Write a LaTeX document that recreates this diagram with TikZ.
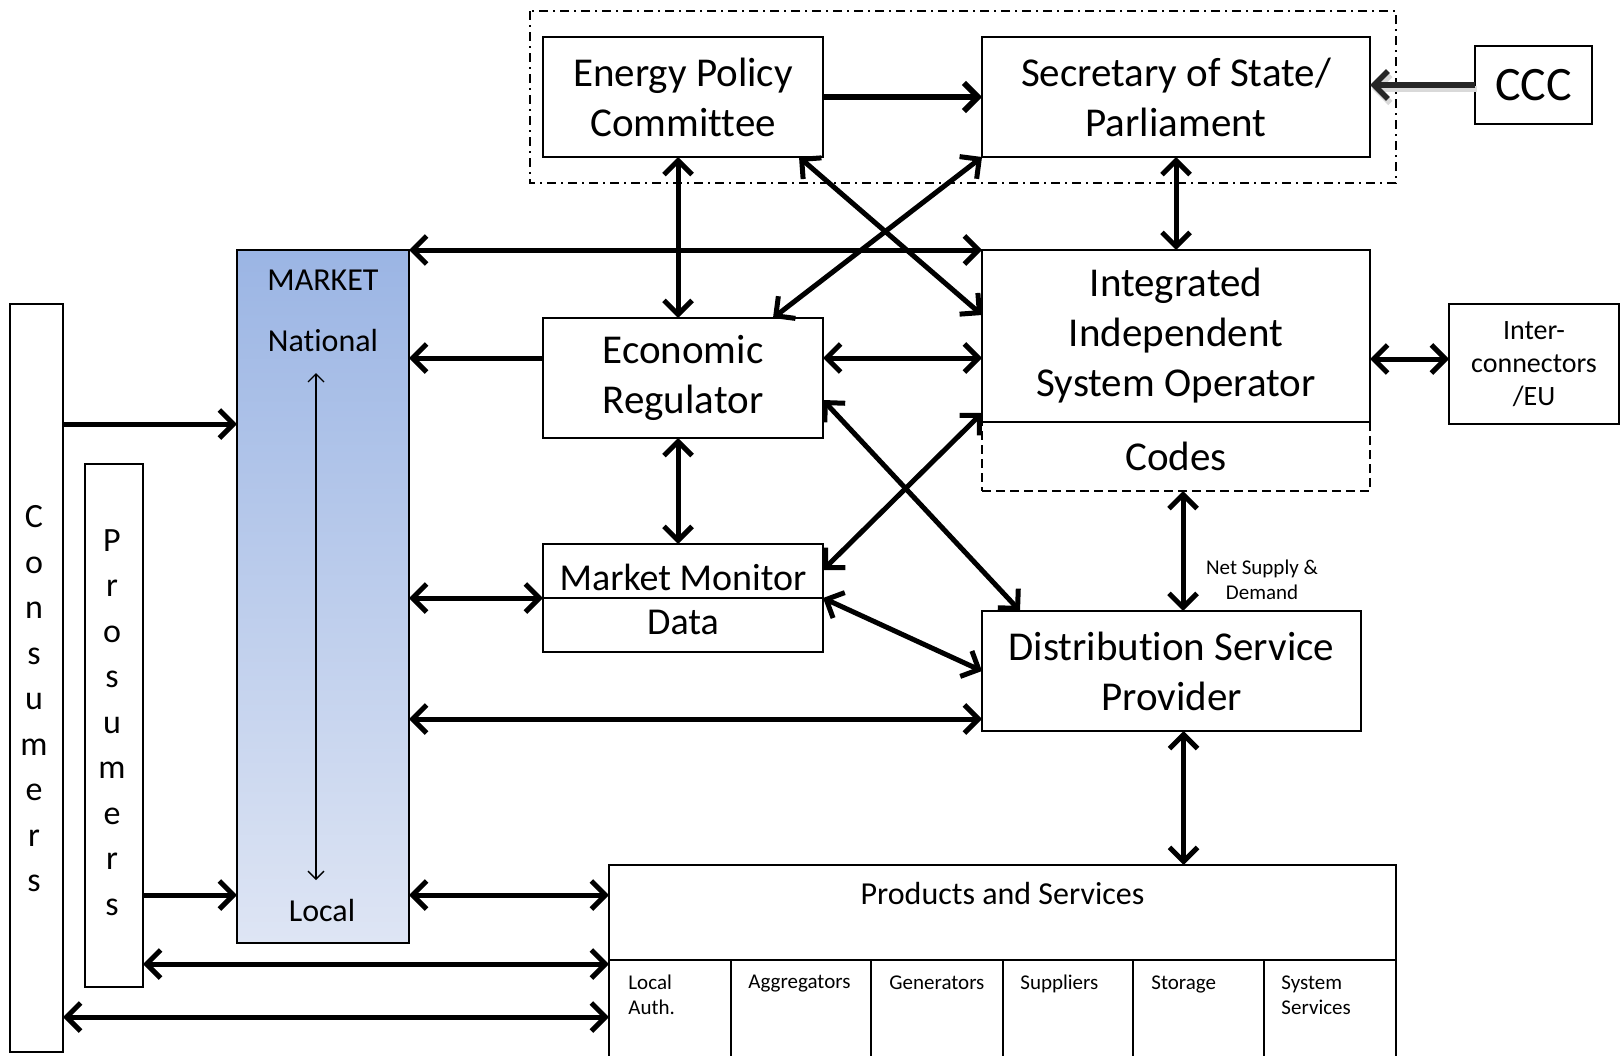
\documentclass[tikz,border=0pt]{standalone}
\usepackage{fontspec}
\setmainfont[Ligatures=NoCommon]{Carlito}
\usetikzlibrary{arrows.meta,calc}
\definecolor{mtop}{RGB}{155,181,228}
\definecolor{mbot}{RGB}{222,229,244}
\definecolor{cccarrow}{RGB}{38,38,38}
\begin{document}
\begin{tikzpicture}[x=0.5pt,y=-0.5pt,
  box/.style={draw, line width=1pt, inner sep=0pt, outer sep=0pt, align=center, font=\fontsize{20.5}{25}\selectfont},
  cell/.style={draw, line width=1pt, inner sep=0pt, outer sep=0pt, minimum height=57.5pt},
  celltxt/.style={inner sep=0pt, anchor=north west, align=left, font=\fontsize{10.5}{12.5}\selectfont},
  txt/.style={inner sep=0pt, align=center},
  tipA/.tip={Straight Barb[length=7pt,width=14pt]},
  conn/.style={line width=2.5pt, tipA-tipA},
  one/.style={line width=2.5pt, -tipA},
  thinarr/.style={line width=0.7pt, {Straight Barb[length=4pt,width=8pt]}-{Straight Barb[length=4pt,width=8pt]}}
]
\useasboundingbox (0,0) rectangle (1621,1055);
\fill[white] (0,0) rectangle (1621,1055);

% dash-dot group
\draw[line width=0.8pt, dash pattern=on 4.5pt off 2.5pt on 1pt off 2.5pt] (530,11) rectangle (1396,183);

% boxes
\node[box, minimum width=140pt, minimum height=60pt] (epc) at (683,97) {Energy Policy\\Committee};
\node[box, minimum width=194pt, minimum height=60pt] (sos) at (1176,97) {Secretary of State/\\Parliament};
\node[box, minimum width=58.5pt, minimum height=39pt, font=\fontsize{24}{28}\selectfont] (ccc) at (1533.5,85) {CCC};
\node[box, dash pattern=on 4.5pt off 2.5pt, minimum width=194pt, minimum height=34.5pt] (codes) at (1176,456.5) {Codes};
\node[box, minimum width=194pt, minimum height=86pt, fill=white] (iso) at (1176,336) {Integrated\\Independent\\System Operator};
\node[box, minimum width=140pt, minimum height=60pt] (er) at (683,378) {Economic\\Regulator};
\node[box, minimum width=140pt, minimum height=54pt] (mm) at (683,598) {};
\draw[line width=1pt] (mm.west) -- (mm.east);
\node[txt, font=\fontsize{19}{22}\selectfont] (mmt) at (683,577) {Market Monitor};
\node[txt, font=\fontsize{19}{22}\selectfont] (mmd) at (683,622) {Data};
\node[box, minimum width=189.5pt, minimum height=60pt] (dsp) at (1171.5,671) {Distribution Service\\Provider};
\node[box, minimum width=85pt, minimum height=60pt, font=\fontsize{14}{16.5}\selectfont] (ic) at (1534,364) {Inter-\\connectors\\/EU};

% market
\node[box, minimum width=86pt, minimum height=346.5pt, top color=mtop, bottom color=mbot] (market) at (323,596.5) {};
\node[txt, font=\fontsize{16}{18}\selectfont] (mk1) at (323,280) {MARKET};
\node[txt, font=\fontsize{16}{18}\selectfont] (mk2) at (323,340) {National};
\node[txt, font=\fontsize{16}{18}\selectfont] (mk3) at (322,910) {Local};
\coordinate (mkA) at (316,373);
\coordinate (mkB) at (316,880);
\draw[thinarr] (mkA) -- (mkB);

% consumers / prosumers
\node[box, minimum width=26.5pt, minimum height=374pt] (cons) at (36.5,678) {};
\node[txt, font=\fontsize{17}{22.75}\selectfont] (const) at (34,699) {C\\o\\n\\s\\u\\m\\e\\r\\s};
\node[box, minimum width=29pt, minimum height=261.5pt] (pros) at (114,725.5) {};
\node[txt, font=\fontsize{17}{22.75}\selectfont] (prost) at (112,722.5) {P\\r\\o\\s\\u\\m\\e\\r\\s};

% products and services
\node[box, minimum width=393.5pt, minimum height=47.5pt] (ps) at (1002.5,912.5) {};
\node[txt, font=\fontsize{16}{19}\selectfont] (pst) at (1002.5,893) {Products and Services};
\node[cell, minimum width=61pt] (c1) at (670,1017.5) {};
\node[cell, minimum width=70pt] (c2) at (801,1017.5) {};
\node[cell, minimum width=66pt] (c3) at (937,1017.5) {};
\node[cell, minimum width=65pt] (c4) at (1068,1017.5) {};
\node[cell, minimum width=65.5pt] (c5) at (1198.5,1017.5) {};
\node[cell, minimum width=66pt] (c6) at (1330,1017.5) {};
\node[celltxt] at ($(c1.north west)+(19,15)$) {Local\\Auth.};
\node[celltxt] at ($(c2.north west)+(17,15)$) {Aggregators};
\node[celltxt] at ($(c3.north west)+(18,15)$) {Generators};
\node[celltxt] at ($(c4.north west)+(17,15)$) {Suppliers};
\node[celltxt] at ($(c5.north west)+(18,15)$) {Storage};
\node[celltxt] at ($(c6.north west)+(17,15)$) {System\\Services};

% connectors
\draw[one, line width=2.9pt] (epc.east) -- (sos.west);
\draw[line width=3pt, gray!30, -tipA] ($(ccc.west)+(2,4)$) -- ($(sos.east |- ccc.west)+(2,4)$);
\draw[line width=2.8pt, cccarrow, -tipA] (ccc.west) -- (sos.east |- ccc.west);
\draw[conn] ($(epc.south)+(-5,0)$) -- ($(er.north)+(-5,0)$);
\draw[conn] (sos.south) -- (iso.north);
\draw[conn] ($(epc.south east)+(-24,0)$) -- ($(iso.north west)+(0,65)$);
\draw[conn] (sos.south west) -- ($(er.north east)+(-50,0)$);
\draw[conn] (market.north east) -- (iso.north west);
\coordinate (erL) at ($(er.west)+(0,-20)$);
\draw[one] (erL) -- (market.east |- erL);
\coordinate (erR) at ($(er.east)+(0,-20)$);
\draw[conn] (erR) -- (iso.west |- erR);
\coordinate (icL) at ($(ic.west)+(0,-5)$);
\draw[conn] (iso.east |- icL) -- (icL);
\draw[conn] ($(er.east)+(0,22)$) -- ($(dsp.north west)+(38,0)$);
\draw[conn] ($(mm.east)+(0,-28)$) -- ($(iso.south west)+(0,-9)$);
\draw[conn] ($(er.south)+(-5,0)$) -- ($(mm.north)+(-5,0)$);
\draw[conn] (market.east |- mm.west) -- (mm.west);
\draw[conn] (mm.east) -- (dsp.west);
\coordinate (dspL) at ($(dsp.south west)+(0,-12)$);
\draw[conn] (market.east |- dspL) -- (dspL);
\coordinate (cdB) at ($(codes.south)+(7,0)$);
\draw[conn] (cdB) -- (cdB |- dsp.north);
\coordinate (dspB) at ($(dsp.south)+(12,0)$);
\draw[conn] (dspB) -- (dspB |- ps.north);
\coordinate (mkC) at ($(market.north west)+(0,174)$);
\draw[one] (cons.east |- mkC) -- (mkC);
\coordinate (mkP) at ($(market.south west)+(0,-48)$);
\draw[one] (pros.east |- mkP) -- (mkP);
\draw[conn] (market.east |- mkP) -- (ps.west |- mkP);
\coordinate (psP) at ($(ps.south west)+(0,4)$);
\draw[conn] (pros.east |- psP) -- (psP);
\coordinate (psC) at ($(ps.south west)+(0,57)$);
\draw[conn] (cons.east |- psC) -- (psC);

\node[txt, font=\fontsize{10.5}{12.5}\selectfont] (nsd) at (1262,580) {Net Supply \&\\Demand};
\end{tikzpicture}
\end{document}
